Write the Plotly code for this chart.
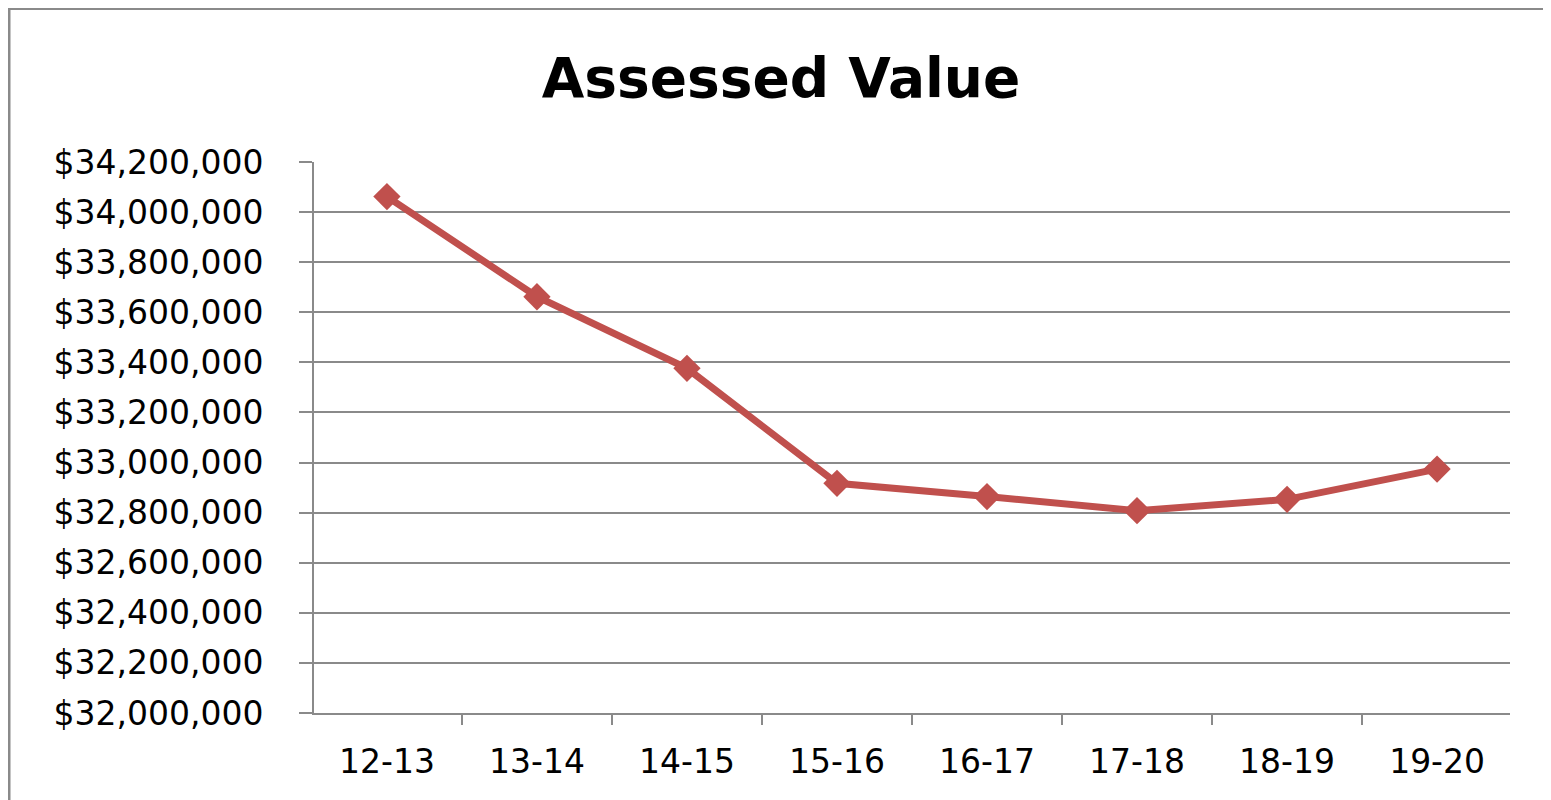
import plotly.graph_objects as go

categories = ["12-13", "13-14", "14-15", "15-16", "16-17", "17-18", "18-19", "19-20"]
assessed_values = [34062000, 33662000, 33376000, 32917000, 32864000, 32808000, 32853000, 32974000]
y_ticks = [32000000 + 200000 * i for i in range(12)]
y_tick_labels = ["${:,}".format(v) for v in y_ticks]

# page body has an 8px offset; figure coordinates = screen - 8
OFF = 8
W, H = 1551, 800
L, T = 314 - OFF, 162 - OFF
R, B = W - (1510 - OFF), H - (713 - OFF)
pw, ph = W - L - R, H - T - B

fig = go.Figure()
fig.add_trace(go.Scatter(
    x=categories, y=assessed_values, mode="lines+markers",
    line=dict(color="#C0504D", width=7),
    marker=dict(symbol="diamond", size=21, color="#C0504D"),
    showlegend=False, cliponaxis=False,
))

font_family = "DejaVu Sans, sans-serif"
fig.update_layout(
    width=W, height=H,
    margin=dict(l=L, r=R, t=T, b=B, pad=0),
    paper_bgcolor="white", plot_bgcolor="white",
    title=dict(text="<b>Assessed Value</b>", x=(781 - OFF - L) / pw, xref="paper",
               xanchor="center", y=1 - (78 - OFF) / H, yanchor="middle",
               font=dict(family=font_family, size=55, color="black")),
    font=dict(family=font_family, color="black"),
)
fig.update_xaxes(
    type="category", showgrid=False, showline=True, linecolor="#8a8a8a", linewidth=2,
    ticks="outside", tickson="boundaries", ticklen=10, tickwidth=2, tickcolor="#8a8a8a",
    tickfont=dict(size=33), ticklabelstandoff=18,
)
fig.update_yaxes(
    range=[32000000, 34200000], tickvals=y_ticks, ticktext=y_tick_labels,
    showgrid=True, gridcolor="#8a8a8a", gridwidth=2,
    showline=True, linecolor="#8a8a8a", linewidth=2,
    ticks="outside", ticklen=13, tickwidth=2, tickcolor="#8a8a8a",
    tickfont=dict(size=33), ticklabelstandoff=29, zeroline=False,
)
fig.add_shape(type="rect", xref="paper", yref="paper",
              x0=(9 - OFF - L) / pw, x1=(W + 20 - L) / pw,
              y0=(H - B - (H + 20)) / ph, y1=(H - B - 0.5) / ph,
              line=dict(color="#8a8a8a", width=3), fillcolor="rgba(0,0,0,0)", layer="below")
fig.write_html("out.html")
